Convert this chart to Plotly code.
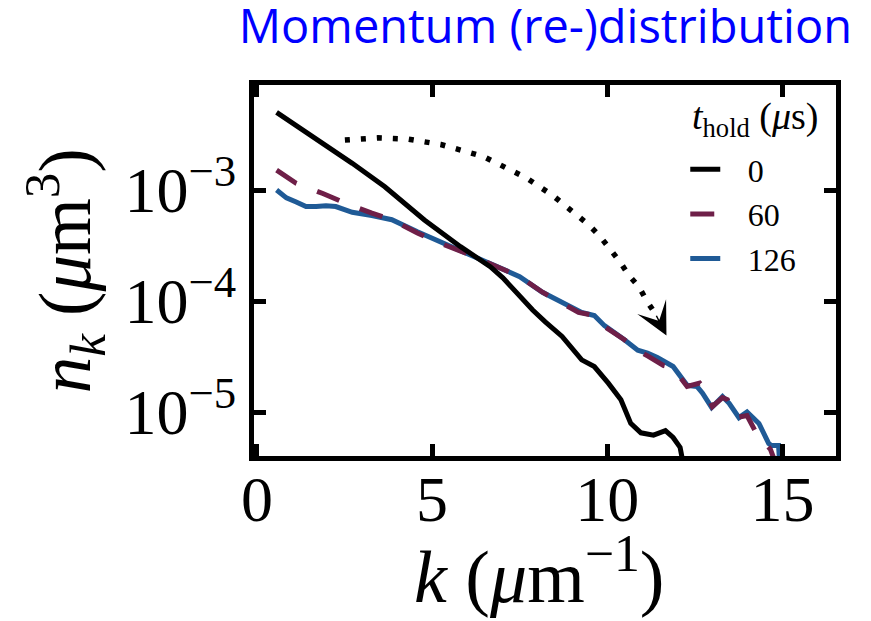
import math
import plotly.graph_objects as go

# ---- data ----
k_0 = [0.56, 1.21, 1.69, 2.25, 2.72, 3.65, 4.78, 5.81, 6.66, 7.02, 7.87, 8.23, 8.71,
       9.27, 9.63, 10.03, 10.39, 10.67, 10.96, 11.32, 11.66, 11.88, 12.08, 12.25]
n_0 = [5.01e-3, 3.63e-3, 2.95e-3, 2.19e-3, 1.74e-3, 1.07e-3, 5.37e-4, 3.09e-4, 2.04e-4,
       1.62e-4, 8.3e-5, 6.5e-5, 4.8e-5, 2.95e-5, 2.57e-5, 1.82e-5, 1.29e-5, 7.9e-6,
       6.5e-6, 6.2e-6, 6.8e-6, 5.9e-6, 4.8e-6, 2.5e-6]

k_60 = [0.56, 1.12, 1.88, 2.53, 3.28, 3.85, 4.58, 5.25, 5.98, 6.66, 7.50, 8.15, 8.62,
        9.18, 9.63, 9.92, 10.48, 10.87, 11.15, 11.60, 11.88, 12.28, 12.64, 12.78, 13.00,
        13.29, 13.43, 13.68, 13.99, 14.24, 14.66, 14.80]
n_60 = [1.51e-3, 1.15e-3, 9.3e-4, 7.6e-4, 6.2e-4, 5.4e-4, 4.1e-4, 3.3e-4, 2.69e-4,
        2.19e-4, 1.66e-4, 1.20e-4, 9.8e-5, 7.9e-5, 7.4e-5, 5.9e-5, 4.5e-5, 3.6e-5,
        3.2e-5, 2.63e-5, 2.5e-5, 1.70e-5, 1.82e-5, 1.62e-5, 1.12e-5, 1.35e-5, 1.29e-5,
        8.9e-6, 9.3e-6, 6.6e-6, 4.6e-6, 3.5e-6]

k_126 = [0.56, 0.84, 1.12, 1.40, 1.69, 1.97, 2.25, 2.72, 3.28, 3.85, 4.58, 5.34, 5.98,
         6.83, 7.50, 8.15, 8.71, 9.27, 9.63, 9.92, 10.48, 10.87, 11.15, 11.43, 11.88,
         12.28, 12.56, 12.72, 12.98, 13.29, 13.48, 13.76, 13.99, 14.33, 14.61, 14.69,
         14.89, 14.95]
n_126 = [1.00e-3, 8.5e-4, 7.8e-4, 7.1e-4, 7.1e-4, 7.2e-4, 7.1e-4, 6.3e-4, 5.9e-4,
         5.4e-4, 4.2e-4, 3.3e-4, 2.75e-4, 2.09e-4, 1.66e-4, 1.20e-4, 9.8e-5, 7.9e-5,
         7.4e-5, 6.0e-5, 4.5e-5, 3.6e-5, 3.4e-5, 3.1e-5, 2.57e-5, 1.74e-5, 1.70e-5,
         1.48e-5, 1.10e-5, 1.38e-5, 1.20e-5, 8.9e-6, 1.00e-5, 7.9e-6, 5.2e-6, 5.0e-6,
         5.0e-6, 2.5e-6]

# dotted guide arrow path and its head
arrow_k = [2.51, 3.45, 4.29, 5.25, 6.47, 7.68, 8.45, 8.81, 9.15, 9.49, 9.80, 10.08,
           10.37, 10.62, 10.90, 11.13, 11.38]
arrow_n = [2.82e-3, 2.95e-3, 2.88e-3, 2.57e-3, 2.0e-3, 1.29e-3, 8.9e-4, 7.2e-4, 5.9e-4,
           4.8e-4, 3.8e-4, 2.95e-4, 2.24e-4, 1.70e-4, 1.35e-4, 1.0e-4, 7.6e-5]
arrow_tip = (11.69, 4.9e-5)

hold_labels = ["0", "60", "126"]
x_ticks = [0, 5, 10, 15]
y_ticks = [1e-5, 1e-4, 1e-3]
y_tick_text = ["10<sup>−5</sup>", "10<sup>−4</sup>", "10<sup>−3</sup>"]

SERIF = "Liberation Serif"
BLACK = "#000000"
MAROON = "#6e1f48"
BLUE = "#1f5a96"
PAD = "\u2002\u2009"  # gap between legend sample and label

fig = go.Figure()
fig.add_trace(go.Scatter(x=k_126, y=n_126, mode="lines", name=PAD + hold_labels[2],
                         legendrank=3, line=dict(color=BLUE, width=5)))
fig.add_trace(go.Scatter(x=k_60, y=n_60, mode="lines", name=PAD + hold_labels[1],
                         legendrank=2,
                         line=dict(color=MAROON, width=5, dash="24px,22px")))
fig.add_trace(go.Scatter(x=k_0, y=n_0, mode="lines", name=PAD + hold_labels[0],
                         legendrank=1, line=dict(color=BLACK, width=5)))
fig.add_trace(go.Scatter(x=arrow_k, y=arrow_n, mode="lines", showlegend=False,
                         line=dict(color=BLACK, width=5.5, dash="5px,11px")))

fig.add_annotation(x=arrow_tip[0], y=math.log10(arrow_tip[1]),
                   ax=arrow_k[-1], ay=math.log10(arrow_n[-1]),
                   xref="x", yref="y", axref="x", ayref="y",
                   showarrow=True, arrowhead=3, arrowsize=3.6, arrowwidth=1.5,
                   arrowcolor=BLACK, text="")

# axis titles placed as in the reference
fig.add_annotation(text="<i>n<sub>k</sub></i> (<i>μ</i>m<sup>3</sup>)",
                   xref="paper", yref="paper", x=-0.325, y=0.5,
                   xanchor="center", yanchor="middle", textangle=-90, showarrow=False,
                   font=dict(family=SERIF, size=73, color=BLACK))
fig.add_annotation(text="<i>k</i> (<i>μ</i>m<sup>−1</sup>)",
                   xref="paper", yref="paper", x=0.49, y=-0.312,
                   xanchor="center", yanchor="middle", showarrow=False,
                   font=dict(family=SERIF, size=74, color=BLACK))
# legend header
fig.add_annotation(text="<i>t</i><sub>hold</sub> (<i>μ</i>s)",
                   xref="paper", yref="paper", x=0.749, y=(448 - 111) / 371,
                   xanchor="left", yanchor="middle", showarrow=False,
                   font=dict(family=SERIF, size=38, color=BLACK))

fig.update_layout(
    width=871, height=621,
    margin=dict(l=246, r=43, t=77, b=173, autoexpand=False),
    paper_bgcolor="white", plot_bgcolor="white",
    title=dict(text="Momentum (re-)distribution", xref="container", yref="container",
               x=844 / 871, xanchor="right", y=1 - 19 / 621, yanchor="middle",
               automargin=False,
               font=dict(family="Open Sans", size=47, color="#0000ff")),
    legend=dict(x=0.741, y=(448 - 134) / 371, xanchor="left", yanchor="top",
                bgcolor="rgba(0,0,0,0)",
                font=dict(family=SERIF, size=32, color=BLACK),
                tracegroupgap=0),
    showlegend=True,
)

axis_common = dict(showline=True, linewidth=5, linecolor=BLACK, mirror="ticks",
                   ticks="inside", ticklen=12, tickwidth=5, tickcolor=BLACK,
                   showgrid=False, zeroline=False, automargin=False,
                   tickfont=dict(family=SERIF, size=64, color=BLACK))

fig.update_xaxes(range=[-0.085, 16.53], tickvals=x_ticks, ticklabelstandoff=-17,
                 **axis_common)
fig.update_yaxes(type="log", range=[-5.396, -2.054], tickvals=y_ticks,
                 ticktext=y_tick_text,
                 **axis_common)

fig.write_html("out.html")
